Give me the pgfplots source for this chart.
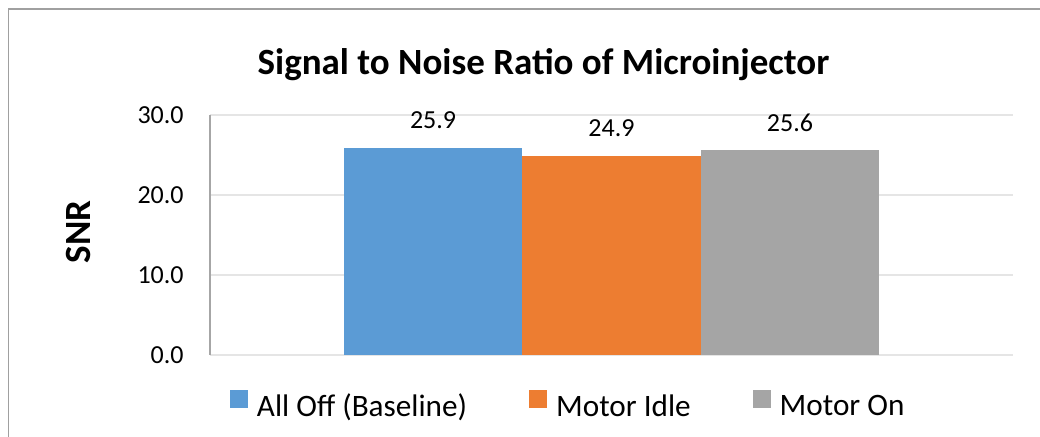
\documentclass[border=0pt]{standalone}
\usepackage{pgfplots}
\pgfplotsset{compat=1.18}
\usepackage{fontspec}
\setmainfont{Carlito}
\definecolor{cblue}{RGB}{91,155,213}
\definecolor{corange}{RGB}{237,125,49}
\definecolor{cgray}{RGB}{165,165,165}
\definecolor{frame}{RGB}{160,160,160}
\begin{document}
\begin{tikzpicture}
\useasboundingbox (0,0) rectangle (520pt,218.5pt);
\draw[color=frame, line width=0.6pt] (4.25pt,0pt) -- (4.25pt,214pt) -- (520pt,214pt);
\node[anchor=base, font=\fontsize{18.5}{20}\selectfont\bfseries] at (271.75pt,181pt) {Signal to Noise Ratio of Microinjector};
\node[rotate=90, font=\fontsize{18.5}{20}\selectfont\bfseries] at (39pt,102.5pt) {SNR};
\begin{axis}[
  at={(105pt,41pt)}, anchor=south west,
  scale only axis, width=401.5pt, height=120pt,
  xmin=-2.25, xmax=2.25, ymin=0, ymax=30,
  ytick={0,10,20,30}, xtick=\empty,
  major tick length=0pt,
  axis lines=left,
  axis line style={-},
  x axis line style={draw=none},
  y axis line style={draw=gray!70, line width=0.6pt},
  ymajorgrids, major grid style={draw=gray!20, line width=0.75pt},
  /pgf/number format/fixed, /pgf/number format/fixed zerofill,
  /pgf/number format/precision=1, /pgf/number format/assume math mode=true,
  yticklabel style={font=\fontsize{13}{13}\selectfont, anchor=east, inner sep=0pt, xshift=-13pt},
  ybar=0pt, bar width=1,
  nodes near coords,
  every node near coord/.append style={anchor=center, yshift=13.7pt, font=\fontsize{13}{13}\selectfont, black},
  legend columns=3,
  legend style={draw=none, fill=none, inner sep=0pt, outer sep=0pt,
    at={(0.0249,-0.2083)}, anchor=west,
    font=\fontsize{15.6}{18}\selectfont,
    nodes={inner sep=0pt},
    /tikz/every odd column/.append style={column sep=4.5pt},
    /tikz/every even column/.append style={column sep=31pt}},
  legend cell align=left,
  legend image code/.code={\fill[#1,draw=none] (0pt,-0.5pt) rectangle (9pt,8.5pt);},
]
\addplot[fill=cblue, draw=none] coordinates {(0,25.9)};
\addplot[fill=corange, draw=none] coordinates {(0,24.9)};
\addplot[fill=cgray, draw=none] coordinates {(0,25.6)};
\legend{All Off (Baseline), Motor Idle, Motor On}
\end{axis}
\end{tikzpicture}
\end{document}
